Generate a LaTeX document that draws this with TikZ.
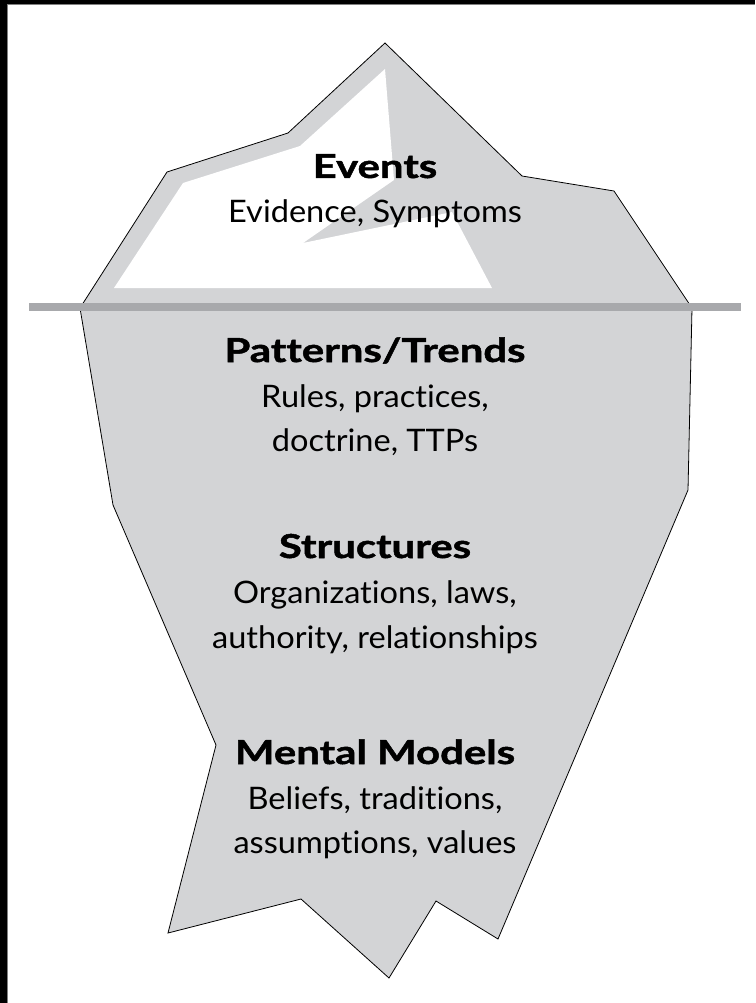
\documentclass[tikz,border=0pt]{standalone}
\usepackage{fontspec}
\setmainfont{Lato}[FakeStretch=1.05, Ligatures=NoCommon]
\newfontfamily\headfont{Lato}[FakeStretch=1.27, FakeBold=1.5, Ligatures=NoCommon]
\definecolor{icegray}{RGB}{211,212,214}
\definecolor{watergray}{RGB}{168,169,172}
\tikzset{
  berg/.style={fill=icegray, draw=black, line width=0.8pt, line join=miter},
  highlight/.style={fill=white, draw=none},
  head/.style={anchor=base, inner sep=0pt, font=\headfont\fontsize{33}{40}\selectfont\bfseries},
  body/.style={anchor=base, inner sep=0pt, font=\fontsize{31}{38}\selectfont},
}
\begin{document}
\begin{tikzpicture}[x=1pt, y=-1pt]
\useasboundingbox (0,0) rectangle (755,1003);
\fill[white] (0,0) rectangle (755,1003);
% black frame edges (top and left)
\fill[black] (0,0) rectangle (755,4);
\fill[black] (0,0) rectangle (7,1003);
\fill[gray] (7,4) rectangle (755,5);
\fill[gray] (7,4) rectangle (8,1003);
% iceberg
\path[berg] (80,308) -- (167,172) -- (288,133) -- (385,43) -- (522,176) -- (614,191) -- (692,308)
  -- (688,490) -- (498,939) -- (436,901) -- (389,978) -- (301,899) -- (168,933) -- (216,745) -- (113,505) -- cycle;
% white highlight
\path[highlight] (385,69) -- (300,146) -- (183,183) -- (114,288) -- (492,288) -- (452,212) -- (303,243) -- (394,180) -- cycle;
% waterline
\fill[watergray] (29,303) rectangle (741,311);
% texts
\node[head] (ev) at (375,178) {Events};
\node[body] (ev1) at (375,222) {Evidence, Symptoms};
\node[head] (pt) at (375,362) {Patterns/Trends};
\node[body] (pt1) at (375,407) {Rules, practices,};
\node[body] (pt2) at (375,451) {doctrine, TTPs};
\node[head] (st) at (375,558) {Structures};
\node[body] (st1) at (375,603) {Organizations, laws,};
\node[body] (st2) at (375,648) {authority, relationships};
\node[head] (mm) at (375,764) {Mental Models};
\node[body] (mm1) at (375,809) {Beliefs, traditions,};
\node[body] (mm2) at (375,853) {assumptions, values};
\end{tikzpicture}
\end{document}
